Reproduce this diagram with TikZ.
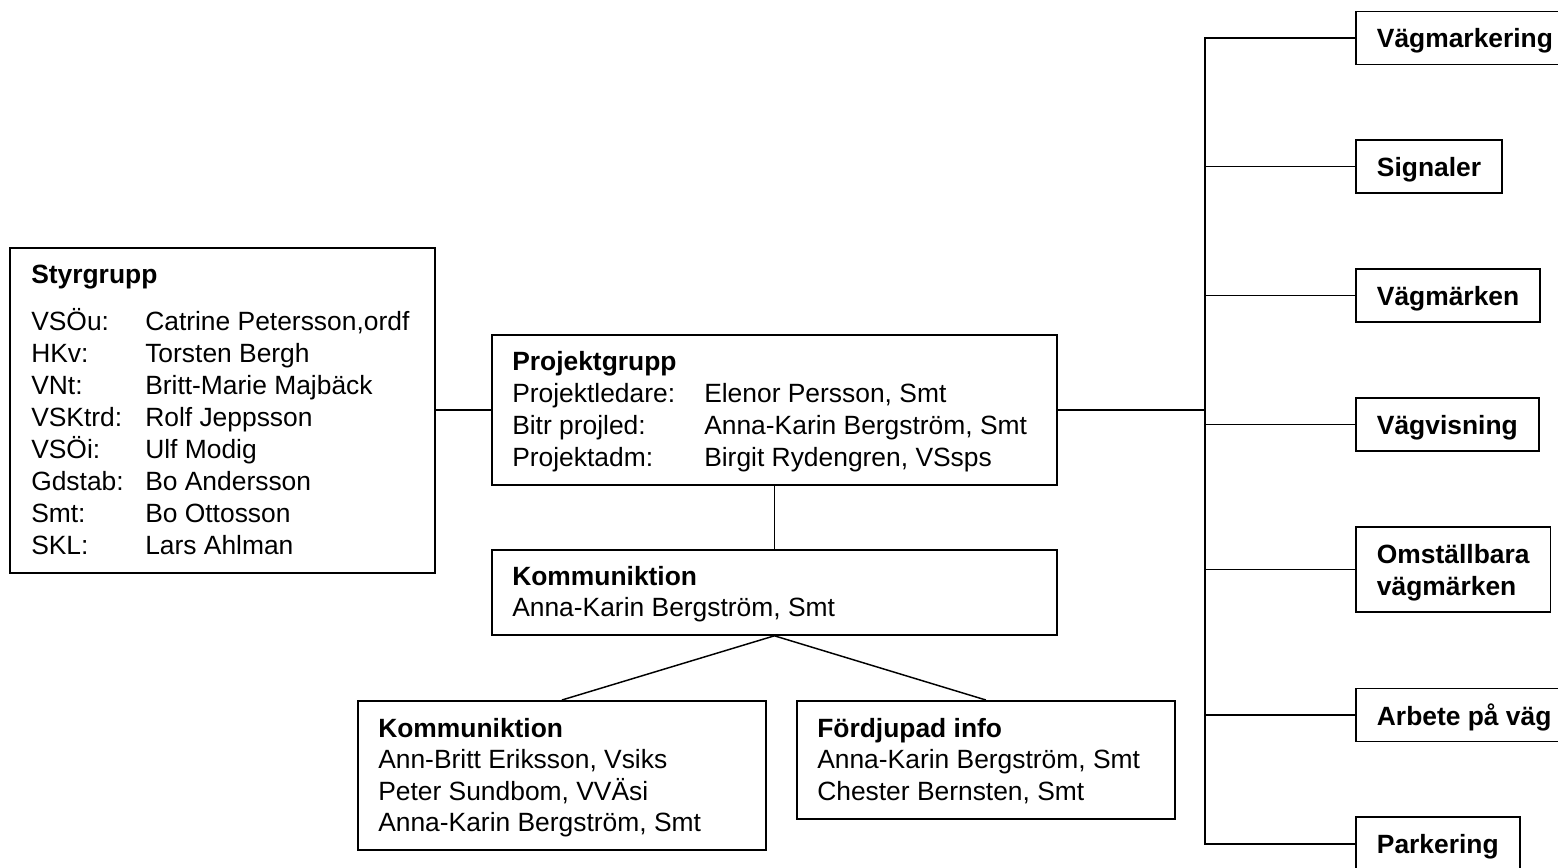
\documentclass[tikz,border=0pt]{standalone}
\usepackage{fontspec}
\setmainfont{Liberation Sans}
\begin{document}
\begin{tikzpicture}[x=0.75pt, y=-0.75pt,
    box/.style={draw, line width=1.35pt, inner sep=0pt, anchor=north west},
    tag/.style={draw, line width=1.35pt, anchor=west, inner xsep=15.75pt, inner ysep=0pt,
        minimum height=39.75pt, text depth=0pt, align=left,
        font=\fontsize{19.8}{24}\selectfont\bfseries},
    txt/.style={anchor=base west, inner sep=0pt, font=\fontsize{19.8}{24}\selectfont},
    head/.style={txt, font=\fontsize{19.8}{24}\selectfont\bfseries},
    link/.style={line width=0.9pt}]
    \useasboundingbox (0,0) rectangle (1558,867);

    % boxes
    \node[box, minimum width=318.75pt, minimum height=243.75pt] (styr) at (9,247) {};
    \node[box, minimum width=423.75pt, minimum height=112.5pt] (proj) at (491,334) {};
    \node[box, minimum width=423.75pt, minimum height=63.75pt] (komm) at (491,549) {};
    \node[box, minimum width=306pt, minimum height=111.75pt] (kommA) at (357,700) {};
    \node[box, minimum width=283.5pt, minimum height=88.5pt] (info) at (796,700) {};

    % Styrgrupp
    \node[head] (styrhead) at (31,283) {Styrgrupp};
    \foreach \k/\n [count=\i] in {VSÖu:/{Catrine Petersson,ordf}, HKv:/Torsten Bergh,
            VNt:/Britt-Marie Majbäck, VSKtrd:/Rolf Jeppsson, VSÖi:/Ulf Modig,
            Gdstab:/Bo Andersson, Smt:/Bo Ottosson, SKL:/Lars Ahlman} {
        \node[txt] (styrk\i) at (31,298.7+32*\i) {\k};
        \node[txt] (styrn\i) at (145,298.7+32*\i) {\n};
    }

    % Projektgrupp
    \node[head] (projhead) at (512,370) {Projektgrupp};
    \foreach \k/\n [count=\i] in {Projektledare:/{Elenor Persson, Smt},
            Bitr projled:/{Anna-Karin Bergström, Smt}, Projektadm:/{Birgit Rydengren, VSsps}} {
        \node[txt] (projk\i) at (512,370+32*\i) {\k};
        \node[txt] (projn\i) at (704,370+32*\i) {\n};
    }

    % Kommuniktion
    \node[head] (kommhead) at (512,585.5) {Kommuniktion};
    \node[txt] (kommn) at (512,616.5) {Anna-Karin Bergström, Smt};

    \node[head] (kommAhead) at (378,737) {Kommuniktion};
    \foreach \n [count=\i] in {{Ann-Britt Eriksson, Vsiks}, {Peter Sundbom, VVÄsi},
            {Anna-Karin Bergström, Smt}} {
        \node[txt] (kommAn\i) at (378,737+31.6*\i) {\n};
    }

    \node[head] (infohead) at (817,737) {Fördjupad info};
    \foreach \n [count=\i] in {{Anna-Karin Bergström, Smt}, {Chester Bernsten, Smt}} {
        \node[txt] (infon\i) at (817,737+31.6*\i) {\n};
    }

    % right column
    \coordinate (bus) at (1205,0);
    \node[tag] (vmark) at (1355,38) {Vägmarkering};
    \node[tag] (sign) at (1355,166.5) {Signaler};
    \node[tag] (vmarken) at (1355,295.5) {Vägmärken};
    \node[tag] (vvis) at (1355,424.5) {Vägvisning};
    \node[tag, minimum height=63.75pt] (omst) at (1355,569.5) {Omställbara\\vägmärken};
    \node[tag] (arbete) at (1355,715) {Arbete på väg};
    \node[tag] (park) at (1355,843.5) {Parkering};

    % connectors
    \draw[link] (proj.west -| styr.east) -- (proj.west);
    \draw[link] (proj.south) -- (komm.north);
    \draw[line width=1.1pt] (kommA.north) -- (komm.south) -- (info.north);
    \draw[line width=1.9pt] (proj.east) -- (proj.east -| bus);
    \draw[line width=1.5pt] (vmark.west) -- (vmark.west -| bus) -- (park.west -| bus) -- (park.west);
    \foreach \n in {sign, vmarken, vvis, omst, arbete} {
        \draw[line width=1.3pt] (\n.west -| bus) -- (\n.west);
    }
\end{tikzpicture}
\end{document}
